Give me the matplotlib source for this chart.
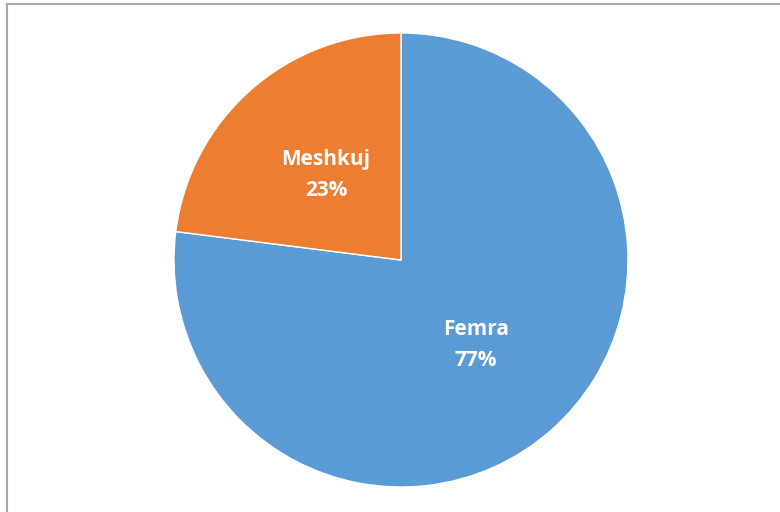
import matplotlib.pyplot as plt
from matplotlib.patches import Rectangle

# data
categories = ["Femra", "Meshkuj"]
values = [77, 23]
colors = ["#5B9BD5", "#ED7D31"]

fig = plt.figure(figsize=(7.8, 5.12), dpi=100)
ax = fig.add_axes([0, 0, 1, 1])

# chart area border (right and bottom run off the picture)
fig.patches.append(Rectangle((7 / 780, -0.1), 1.2, (508 / 512) + 0.1,
                             transform=fig.transFigure, fill=False,
                             edgecolor="#a6a6a6", linewidth=1.5))

def fmt(pct, names=iter(categories)):
    return f"{next(names)}\n{pct:.0f}%"

wedges, texts, autotexts = ax.pie(
    values, colors=colors, startangle=90, counterclock=False,
    center=(401, 252), radius=227, frame=True,
    autopct=fmt, pctdistance=0.5,
    wedgeprops=dict(edgecolor="white", linewidth=1),
    textprops=dict(color="white", fontsize=15, fontweight="bold",
                   family="Open Sans", linespacing=1.6),
)
ax.set_xlim(0, 780)
ax.set_ylim(0, 512)
ax.set_aspect("auto")
ax.axis("off")

fig.savefig("out.png", dpi=100)
